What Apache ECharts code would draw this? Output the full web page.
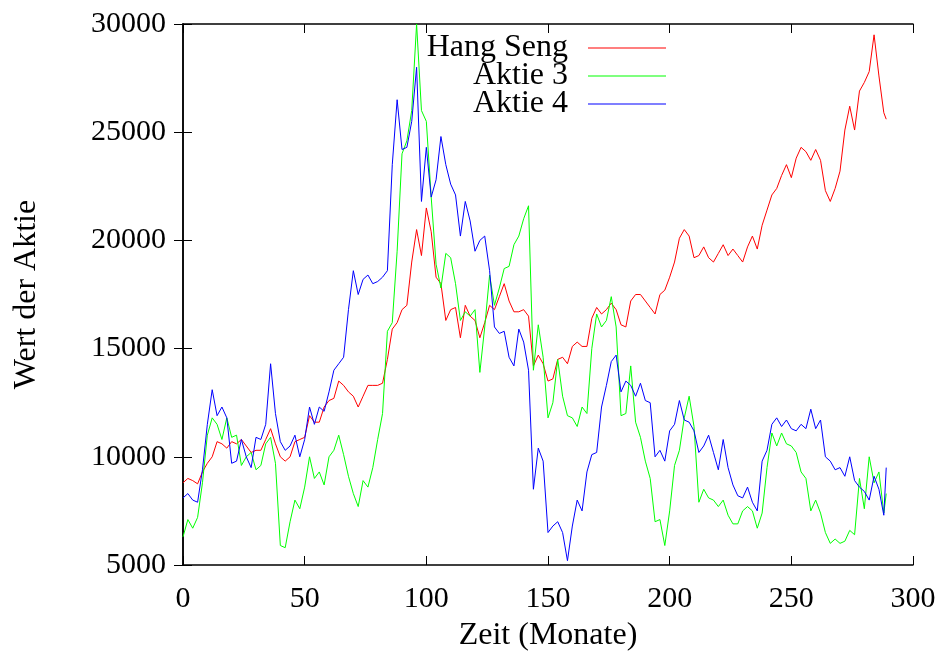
<!DOCTYPE html>
<html>
<head>
<meta charset="utf-8">
<script src="https://cdn.jsdelivr.net/npm/echarts@6/dist/echarts.min.js"></script>
<style>
  html, body { margin: 0; background: #fff; }
  #chart { width: 944px; height: 657px; }
</style>
</head>
<body>
<div id="chart"></div>
<script>
// months on the x axis (every second month, plus the last one)
const months = [
    0,   2,   4,   6,   8,  10,  12,  14,  16,  18,
   20,  22,  24,  26,  28,  30,  32,  34,  36,  38,
   40,  42,  44,  46,  48,  50,  52,  54,  56,  58,
   60,  62,  64,  66,  68,  70,  72,  74,  76,  78,
   80,  82,  84,  86,  88,  90,  92,  94,  96,  98,
  100, 102, 104, 106, 108, 110, 112, 114, 116, 118,
  120, 122, 124, 126, 128, 130, 132, 134, 136, 138,
  140, 142, 144, 146, 148, 150, 152, 154, 156, 158,
  160, 162, 164, 166, 168, 170, 172, 174, 176, 178,
  180, 182, 184, 186, 188, 190, 192, 194, 196, 198,
  200, 202, 204, 206, 208, 210, 212, 214, 216, 218,
  220, 222, 224, 226, 228, 230, 232, 234, 236, 238,
  240, 242, 244, 246, 248, 250, 252, 254, 256, 258,
  260, 262, 264, 266, 268, 270, 272, 274, 276, 278,
  280, 282, 284, 286, 288, 289
];

const hangSeng = [
   8800,  9000,  8900,  8750,  9300,  9700, 10000, 10700, 10600, 10400,
  10700, 10600, 10800, 10500, 10200, 10300, 10300, 10800, 11300, 10600,
  10000,  9800, 10000, 10700, 10800, 10900, 11900, 11600, 11600, 12300,
  12600, 12700, 13500, 13300, 13000, 12800, 12300, 12800, 13300, 13300,
  13300, 13400, 14500, 15900, 16200, 16800, 17000, 19000, 20500, 19300,
  21500, 20400, 18300, 18000, 16300, 16800, 16900, 15500, 17000, 16500,
  16300, 15500, 16200, 17000, 16800, 17400, 18000, 17200, 16700, 16700,
  16800, 16500, 14200, 14700, 14300, 13500, 13600, 14500, 14600, 14300,
  15100, 15300, 15100, 15100, 16400, 16900, 16600, 16800, 17100, 16800,
  16100, 16000, 17200, 17500, 17500, 17200, 16900, 16600, 17500, 17700,
  18300, 19000, 20100, 20500, 20200, 19200, 19300, 19700, 19200, 19000,
  19400, 19800, 19300, 19600, 19300, 19000, 19700, 20200, 19600, 20700,
  21400, 22100, 22400, 23000, 23500, 22900, 23800, 24300, 24100, 23700,
  24200, 23700, 22300, 21800, 22400, 23200, 25100, 26200, 25100, 26900,
  27300, 27800, 29500, 27600, 25900, 25600
];

const aktie3 = [
   6300,  7100,  6700,  7200,  8800, 11000, 11800, 11500, 10800, 11800,
  10900, 11000,  9600, 10000, 10200,  9400,  9600, 10600, 10900,  9700,
   5900,  5800,  7000,  8000,  7600,  8600, 10000,  9000,  9300,  8700,
  10000, 10300, 11000, 10100,  9100,  8300,  7700,  8900,  8600,  9500,
  10800, 12000, 15800, 16200, 19500, 24000, 24600, 26000, 30000, 26000,
  25500, 22000, 18900, 17800, 19400, 19200, 18000, 16300, 16700, 16500,
  16800, 13900, 16000, 18400, 17000, 17800, 18700, 18800, 19800, 20200,
  21000, 21600, 14000, 16100, 14600, 11800, 12500, 14500, 12800, 11900,
  11800, 11400, 12300, 12000, 15000, 16600, 16000, 16300, 17400, 16000,
  11900, 12000, 14200, 11600, 10900,  9800,  9000,  7000,  7100,  5900,
   7500,  9600, 10300, 11800, 12800, 11400,  7900,  8500,  8100,  8000,
   7700,  8000,  7300,  6900,  6900,  7500,  7700,  7500,  6700,  7400,
   9500, 11100, 10500, 11100, 10600, 10500, 10200,  9300,  9000,  7500,
   8000,  7400,  6500,  6000,  6200,  6000,  6100,  6600,  6400,  9000,
   7600, 10000,  8800,  9300,  7400,  8300
];

const aktie4 = [
   8100,  8300,  8000,  7900,  9400, 11500, 13100, 11900, 12300, 11800,
   9700,  9800, 10800, 10000,  9500, 10900, 10800, 11500, 14300, 12000,
  10700, 10300, 10500, 11000, 10000, 10800, 12300, 11500, 12300, 12100,
  13000, 14000, 14300, 14600, 16800, 18600, 17500, 18200, 18400, 18000,
  18100, 18300, 18600, 23500, 26500, 24200, 24300, 25500, 28000, 21800,
  24300, 22000, 22800, 24800, 23500, 22600, 22100, 20200, 21800, 20900,
  19500, 20000, 20200, 18600, 16000, 15700, 15800, 14600, 14200, 15900,
  15300, 14000,  8500, 10400,  9800,  6500,  6800,  7000,  6500,  5200,
   6800,  8000,  7500,  9300, 10100, 10200, 12300, 13300, 14400, 14700,
  13000, 13500, 13300, 12800, 13400, 12600, 12500, 10000, 10300,  9800,
  11200, 11500, 12600, 11700, 11600, 11200, 10200, 10500, 11000, 10200,
   9400, 10800,  9500,  8700,  8200,  8100,  8600,  7900,  7500,  9800,
  10300, 11500, 11800, 11400, 11700, 11300, 11200, 11500, 11300, 12200,
  11300, 11700, 10000,  9800,  9400,  9500,  9100, 10000,  8900,  8600,
   8400,  8000,  9100,  8500,  7300,  9500
];

const seriesNames  = ['Hang Seng', 'Aktie 3', 'Aktie 4'];
const seriesColors = ['#ff0000', '#00ff00', '#0000ff'];
const seriesValues = [hangSeng, aktie3, aktie4];

const xMin = 0, xMax = 300, xStep = 50;
const yMin = 5000, yMax = 30000, yStep = 5000;

const FONT = 'Liberation Serif';

const chart = echarts.init(document.getElementById('chart'), null, { renderer: 'canvas' });

function pairs(values) {
    return months.map((m, i) => [m, values[i]]);
}

function legendRow(name, top) {
    return {
        data: [name],
        right: 273,
        top: top,
        orient: 'vertical',
        align: 'right',
        icon: 'rect',
        itemWidth: 78,
        itemHeight: 1,
        selectedMode: false,
        textStyle: { fontFamily: FONT, fontSize: 32, color: '#000', padding: [0, 15, 0, 0] }
    };
}

const tickStyle = { show: true, inside: true, length: 9, lineStyle: { color: '#000', width: 1 } };
const lineStyle = { show: true, lineStyle: { color: '#000', width: 1.5 } };

const option = {
    animation: false,
    backgroundColor: '#fff',
    grid: { left: 183, right: 31, top: 24, bottom: 90, containLabel: false },
    legend: [
        legendRow('Hang Seng', 27),
        legendRow('Aktie 3', 55),
        legendRow('Aktie 4', 83)
    ],
    xAxis: [
        {
            type: 'value', min: xMin, max: xMax, interval: xStep,
            name: 'Zeit (Monate)', nameLocation: 'middle', nameGap: 55,
            nameTextStyle: { fontFamily: FONT, fontSize: 32, color: '#000' },
            axisLine: lineStyle, axisTick: tickStyle, splitLine: { show: false },
            axisLabel: { fontFamily: FONT, fontSize: 30, color: '#000', margin: 19 }
        },
        {
            type: 'value', position: 'top', min: xMin, max: xMax, interval: xStep,
            axisLine: lineStyle, axisTick: tickStyle, splitLine: { show: false },
            axisLabel: { show: false }
        }
    ],
    yAxis: [
        {
            type: 'value', min: yMin, max: yMax, interval: yStep,
            name: 'Wert der Aktie', nameLocation: 'middle', nameGap: 140,
            nameTextStyle: { fontFamily: FONT, fontSize: 32, color: '#000' },
            axisLine: lineStyle, axisTick: tickStyle, splitLine: { show: false },
            axisLabel: {
                fontFamily: FONT, fontSize: 30, color: '#000', margin: 17,
                formatter: v => String(v)
            }
        },
        {
            type: 'value', position: 'right', min: yMin, max: yMax, interval: yStep,
            axisLine: lineStyle, axisTick: tickStyle, splitLine: { show: false },
            axisLabel: { show: false }
        }
    ],
    series: seriesNames.map((name, i) => ({
        name: name,
        type: 'line',
        data: pairs(seriesValues[i]),
        showSymbol: false,
        symbol: 'none',
        clip: true,
        color: seriesColors[i],
        lineStyle: { width: 1, color: seriesColors[i] }
    }))
};

chart.setOption(option);
</script>
</body>
</html>
